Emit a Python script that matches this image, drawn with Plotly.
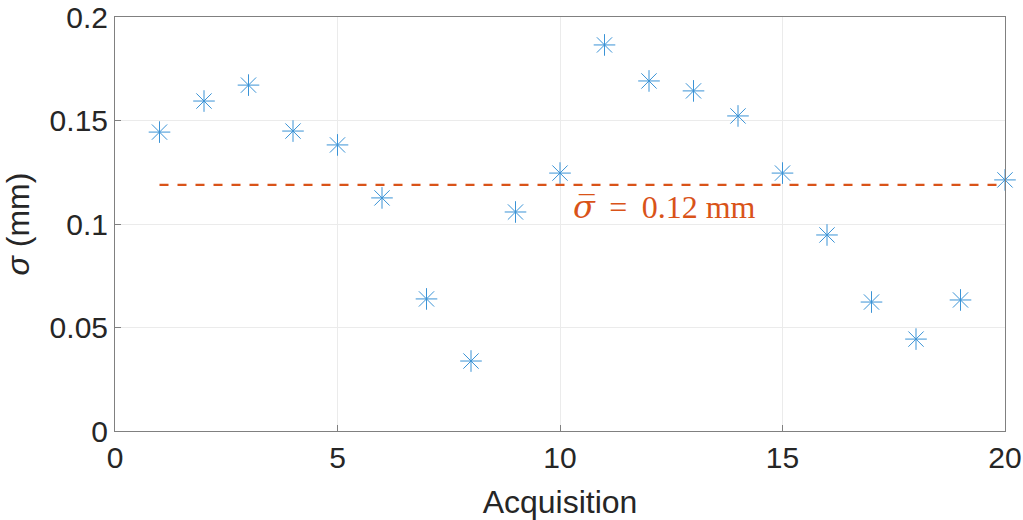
import plotly.graph_objects as go

acquisition = list(range(1, 21))
sigma_mm = [0.1444, 0.1594, 0.1671, 0.1449, 0.1382, 0.1126, 0.0638, 0.0338, 0.1058, 0.1246,
            0.1865, 0.1691, 0.1643, 0.1522, 0.1246, 0.0947, 0.0623, 0.0444, 0.0633, 0.1213]
mean_sigma = sum(sigma_mm) / len(sigma_mm)
x_ticks = [0, 5, 10, 15, 20]
y_ticks = [0, 0.05, 0.1, 0.15, 0.2]
y_tick_labels = ["0", "0.05", "0.1", "0.15", "0.2"]

fig = go.Figure()
fig.add_trace(go.Scatter(
    x=acquisition, y=sigma_mm, mode="markers",
    marker=dict(symbol="asterisk-open", size=18, color="#3A93D6",
                line=dict(color="#3A93D6", width=1)),
    showlegend=False, cliponaxis=False))
fig.add_trace(go.Scatter(
    x=[acquisition[0], acquisition[-1]], y=[mean_sigma, mean_sigma], mode="lines",
    line=dict(color="#D95319", width=2.2, dash="dash"),
    showlegend=False))
fig.add_annotation(
    x=12.35, y=0.1082, xref="x", yref="y",
    text="<span style='font-family:DejaVu Serif'><i>σ\u0305</i></span>\u2009 = \u20090.12 mm",
    showarrow=False,
    font=dict(family="Liberation Serif, DejaVu Serif, serif", size=32, color="#D95319"))

font_sans = "Liberation Sans, Arial, sans-serif"
axis_common = dict(showline=True, linecolor="#808080", linewidth=1, mirror=True,
                   showgrid=True, gridcolor="#EBEBEB", gridwidth=1,
                   ticks="inside", ticklen=6, tickcolor="#808080",
                   zeroline=False, automargin=False, ticklabeloverflow="allow",
                   tickfont=dict(family=font_sans, size=30, color="#262626"))
fig.update_xaxes(range=[0, 20], tickvals=x_ticks,
                 title=dict(text="Acquisition", standoff=17,
                            font=dict(family=font_sans, size=32, color="#262626")),
                 **axis_common)
fig.update_yaxes(range=[0, 0.2], tickvals=y_ticks, ticktext=y_tick_labels,
                 title=dict(text="<i>σ</i> (mm)", standoff=10,
                            font=dict(family=font_sans, size=32, color="#262626")),
                 **axis_common)
fig.update_layout(width=1023, height=520, plot_bgcolor="white", paper_bgcolor="white",
                  margin=dict(l=115, r=18, t=17, b=89))
# remove the default page margin so the figure fills the window exactly
fig.write_html("out.html", config={"displayModeBar": False},
               post_script="document.body.style.margin='0';document.body.style.overflow='hidden';")
